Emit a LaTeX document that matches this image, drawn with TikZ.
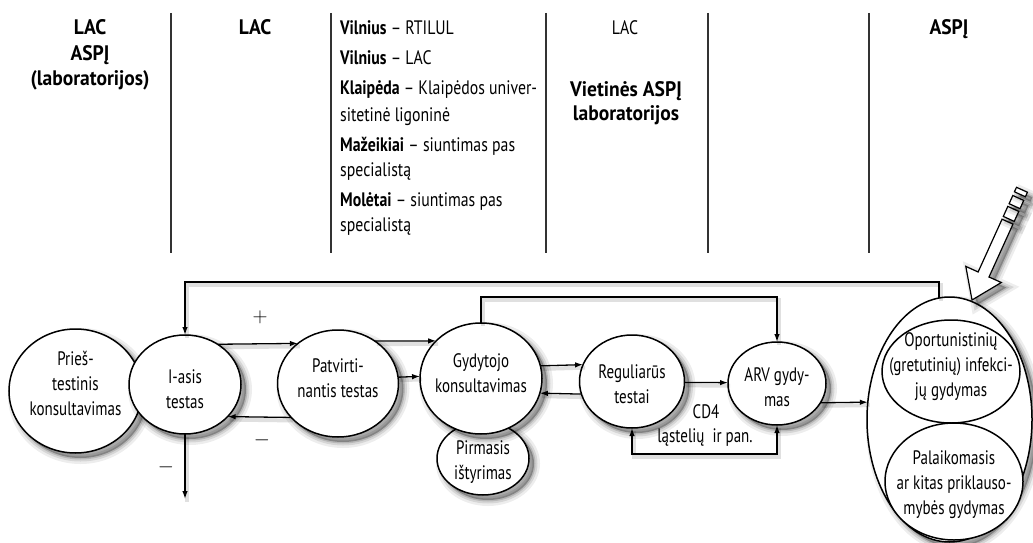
\documentclass[tikz,border=0pt]{standalone}
\usepackage{fontspec}
\setmainfont{PT Sans}[FakeStretch=0.77]
\newfontfamily\colfont{PT Sans}[FakeStretch=0.81]
\newfontfamily\hdfont{PT Sans}[FakeStretch=0.93]
\usetikzlibrary{arrows.meta,shapes.geometric}
\tikzset{
  shd/.style={preaction={fill=black, opacity=0.07, draw=black, line width=12pt, transform canvas={xshift=5pt,yshift=-5pt}},
              preaction={fill=black, opacity=0.10, draw=black, line width=7pt, transform canvas={xshift=5pt,yshift=-5pt}},
              preaction={fill=black, opacity=0.14, draw=black, line width=3pt, transform canvas={xshift=5pt,yshift=-5pt}}},
  ell/.style={ellipse, draw, line width=1.5pt, fill=white, inner sep=0pt, outer sep=0pt},
  txt/.style={font=\fontsize{19.5}{25}\selectfont, align=center, inner sep=0pt},
  hd/.style={font=\hdfont\fontsize{21}{25}\selectfont\bfseries, inner sep=0pt, anchor=base},
  hdr/.style={font=\colfont\fontsize{19.5}{25}\selectfont, inner sep=0pt, anchor=base},
  ln/.style={font=\colfont\fontsize{19.5}{25}\selectfont, inner sep=0pt, anchor=base west},
  lsh/.style={preaction={draw=black, opacity=0.12, line width=4pt, arrows=-, transform canvas={xshift=2pt,yshift=-3pt}}},
  conn/.style={lsh, line width=1.3pt, -{Latex[length=8pt,width=5.5pt]}},
  sepline/.style={line width=1.2pt, draw=black!80},
  sign/.style={font=\fontsize{22}{22}\selectfont, inner sep=0pt},
  bigarr/.style={draw, line width=1.2pt, fill=white, line join=miter}
}
\begin{document}
\begin{tikzpicture}[x=1pt,y=-1pt]
\useasboundingbox (0,0) rectangle (1033,543);
% column separators
\draw[sepline] (171,13) -- (171,253);
\draw[sepline] (331,13) -- (331,253);
\draw[sepline] (546,13) -- (546,253);
\draw[sepline] (708,13) -- (708,253);
\draw[sepline] (869,13) -- (869,253);
% headings
\node[hd] (h1a) at (90,35) {LAC};
\node[hd] (h1b) at (90,60) {ASPĮ};
\node[hd] (h1c) at (90,85) {(laboratorijos)};
\node[hd] (h2) at (255,35) {LAC};
\node[ln] (c1) at (340,35) {\textbf{Vilnius} – RTILUL};
\node[ln] (c2) at (340,65) {\textbf{Vilnius} – LAC};
\node[ln] (c3) at (340,95) {\textbf{Klaipėda} – Klaipėdos univer-};
\node[ln] (c4) at (340,121) {sitetinė ligoninė};
\node[ln] (c5) at (340,151) {\textbf{Mažeikiai} – siuntimas pas};
\node[ln] (c6) at (340,176) {specialistą};
\node[ln] (c7) at (340,206) {\textbf{Molėtai} – siuntimas pas};
\node[ln] (c8) at (340,231) {specialistą};
\node[hdr] (h4a) at (625,35) {LAC};
\node[hd] (h4b) at (626,96) {Vietinės ASPĮ};
\node[hd] (h4c) at (626,120) {laboratorijos};
\node[hd] (h6) at (949,35) {ASPĮ};
% ellipses
\node[ell,shd,minimum width=133pt,minimum height=124pt] (pries) at (75.5,391) {};
\node[ell,shd,minimum width=112pt,minimum height=99pt] (iasis) at (185,384.5) {};
\node[ell,shd,minimum width=121pt,minimum height=107pt] (patv) at (338,383.5) {};
\node[ell,shd,minimum width=92pt,minimum height=73pt] (pirm) at (483,458.5) {};
\node[ell,shd,minimum width=122pt,minimum height=111pt] (gyd) at (481,378.5) {};
\node[ell,shd,minimum width=105pt,minimum height=93pt] (reg) at (632,381.5) {};
\node[ell,shd,minimum width=98pt,minimum height=83pt] (arv) at (777,383.5) {};
\node[ell,shd,minimum width=165pt,minimum height=245pt] (outer) at (949.5,419.5) {};
\node[ell,minimum width=138pt,minimum height=103pt] (oport) at (951,371.5) {};
\node[ell,minimum width=138pt,minimum height=117pt] (palk) at (954,481.5) {};
% texts
\node[txt] (tpries) at (75.5,383) {Prieš-\\testinis\\konsultavimas};
\node[txt] (tiasis) at (185,389) {I-asis\\testas};
\node[txt] (tpatv) at (338,378) {Patvirti-\\nantis testas};
\node[txt] (tgyd) at (481,373) {Gydytojo\\konsultavimas};
\node[txt] (tpirm) at (483,462) {Pirmasis\\ištyrimas};
\node[txt] (treg) at (632,384) {Reguliarūs\\testai};
\node[txt] (tarv) at (777,387) {ARV gydy-\\mas};
\node[txt] (toport) at (951,367) {Oportunistinių\\(gretutinių) infekci-\\jų gydymas};
\node[txt] (tpalk) at (954,485) {Palaikomasis\\ar kitas priklauso-\\mybės gydymas};
% connectors
\coordinate (iout) at (185,499);
\draw[conn] (iasis.south) -- (iout);
\draw[conn] (iasis.51.5) -- (patv.135.9);
\draw[conn] (patv.-144.6) -- (iasis.-37.6);
\draw[conn] (patv.49.1) -- (gyd.140.2);
\draw[conn] (patv.6.2) -- (gyd.178.6);
\draw[conn] (gyd.12.8) -- (reg.161.4);
\draw[conn] (reg.-166.1) -- (gyd.-14.8);
\draw[conn] (reg.-1.6) -- (arv.179.4);
\draw[conn] (arv.-24.2) -- (outer.168.6);
\coordinate (ytop) at (0,282);
\coordinate (ymid) at (0,297);
\coordinate (ybot) at (0,454);
\draw[conn] (outer.95) -- (outer.95 |- ytop) -| (iasis.north);
\draw[conn] (gyd.north) -- (gyd.north |- ymid) -| (arv.north);
\draw[lsh, line width=1.3pt, {Latex[length=8pt,width=5.5pt]}-{Latex[length=8pt,width=5.5pt]}] (reg.south) -- (reg.south |- ybot) -| (arv.south);
% labels
\node[sign] (plus) at (260,317) {$+$};
\node[sign] (minus1) at (262,440) {$-$};
\node[sign] (minus2) at (166,467) {$-$};
\node[txt] (cd4) at (706,412) {CD4};
\node[txt] (lq) at (705,438) {ląstelių\ \ ir pan.};
% big hollow arrow
\draw[bigarr,shd] (972,300) -- (1001.3,282.5) -- (989.0,277.0) -- (1013.0,224.1) -- (1002.05,219.2) -- (978.1,272.0) -- (965.8,266.4) -- cycle;
\draw[bigarr,shd] (1003.3,216.4) -- (1014.2,221.4) -- (1018.8,211.4) -- (1007.8,206.4) -- cycle;
\draw[bigarr,shd] (1009.1,203.7) -- (1020.0,208.65) -- (1023.7,200.45) -- (1012.8,195.5) -- cycle;
\draw[bigarr,shd] (1014.4,191.8) -- (1025.4,196.8) -- (1027.4,192.25) -- (1016.5,187.3) -- cycle;
\end{tikzpicture}
\end{document}
